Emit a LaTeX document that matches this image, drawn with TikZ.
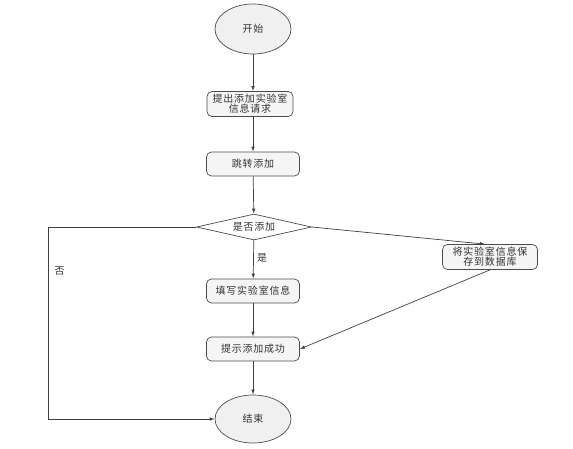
\documentclass[tikz,border=0pt]{standalone}
\usepackage{fontspec}
\newfontfamily\cjk[LetterSpace=8]{Noto Sans CJK SC}
\usetikzlibrary{shapes.geometric, arrows.meta}

\begin{document}
\begin{tikzpicture}[x=1pt, y=-1pt, >={Latex[length=5pt, width=3.5pt]}, line width=0.7pt]
    \tikzset{
        every node/.style={font=\cjk\fontsize{10}{12}\selectfont, text=black!80},
        term_node/.style={ellipse, draw=black!70, fill=black!6, minimum width=76pt, minimum height=50pt, inner sep=0pt},
        proc_box/.style={rounded corners=5pt, draw=black!70, fill=black!4, minimum width=93pt, minimum height=24pt, inner sep=1pt, align=center},
        decision/.style={diamond, draw=black!70, fill=white, aspect=4.4, minimum width=115pt, minimum height=26pt, inner sep=0pt},
        flow/.style={->, draw=black!75}
    }
    \useasboundingbox (0,0) rectangle (573,448);

    \node[term_node] (start) at (253,29) {开始};
    \node[proc_box, minimum width=86pt, minimum height=25pt] (ask) at (250,104) {提出添加实验室\\[-2pt]信息请求};
    \node[proc_box] (jump) at (253,164) {跳转添加};
    \node[decision] (check) at (254,227) {是否添加};
    \node[proc_box] (fill) at (253,291) {填写实验室信息};
    \node[proc_box] (done) at (253,349) {提示添加成功};
    \node[term_node, minimum height=48pt] (finish) at (253,419) {结束};
    \node[proc_box, minimum width=95pt, minimum height=25pt] (save) at (490,257) {将实验室信息保\\[-2pt]存到数据库};

    \coordinate (no_turn) at (48,227);
    \coordinate (no_bottom) at (48,419);

    \draw[flow] (start) -- (start |- ask.north);
    \draw[flow] (start |- ask.south) -- (jump);
    \draw[flow] (jump) -- (check);
    \draw[flow] (check) -- node[right, pos=0.45] {是} (fill);
    \draw[flow] (fill) -- (done);
    \draw[flow] (done) -- (finish);
    \draw[flow] (check.east) -- ([xshift=-5pt]save.north);
    \draw[flow] (save.south) -- (done.east);
    \draw[flow] (check.west) -- (no_turn) -- node[right, pos=0.23, xshift=3pt] {否} (no_bottom) -- (finish.west);
\end{tikzpicture}
\end{document}
